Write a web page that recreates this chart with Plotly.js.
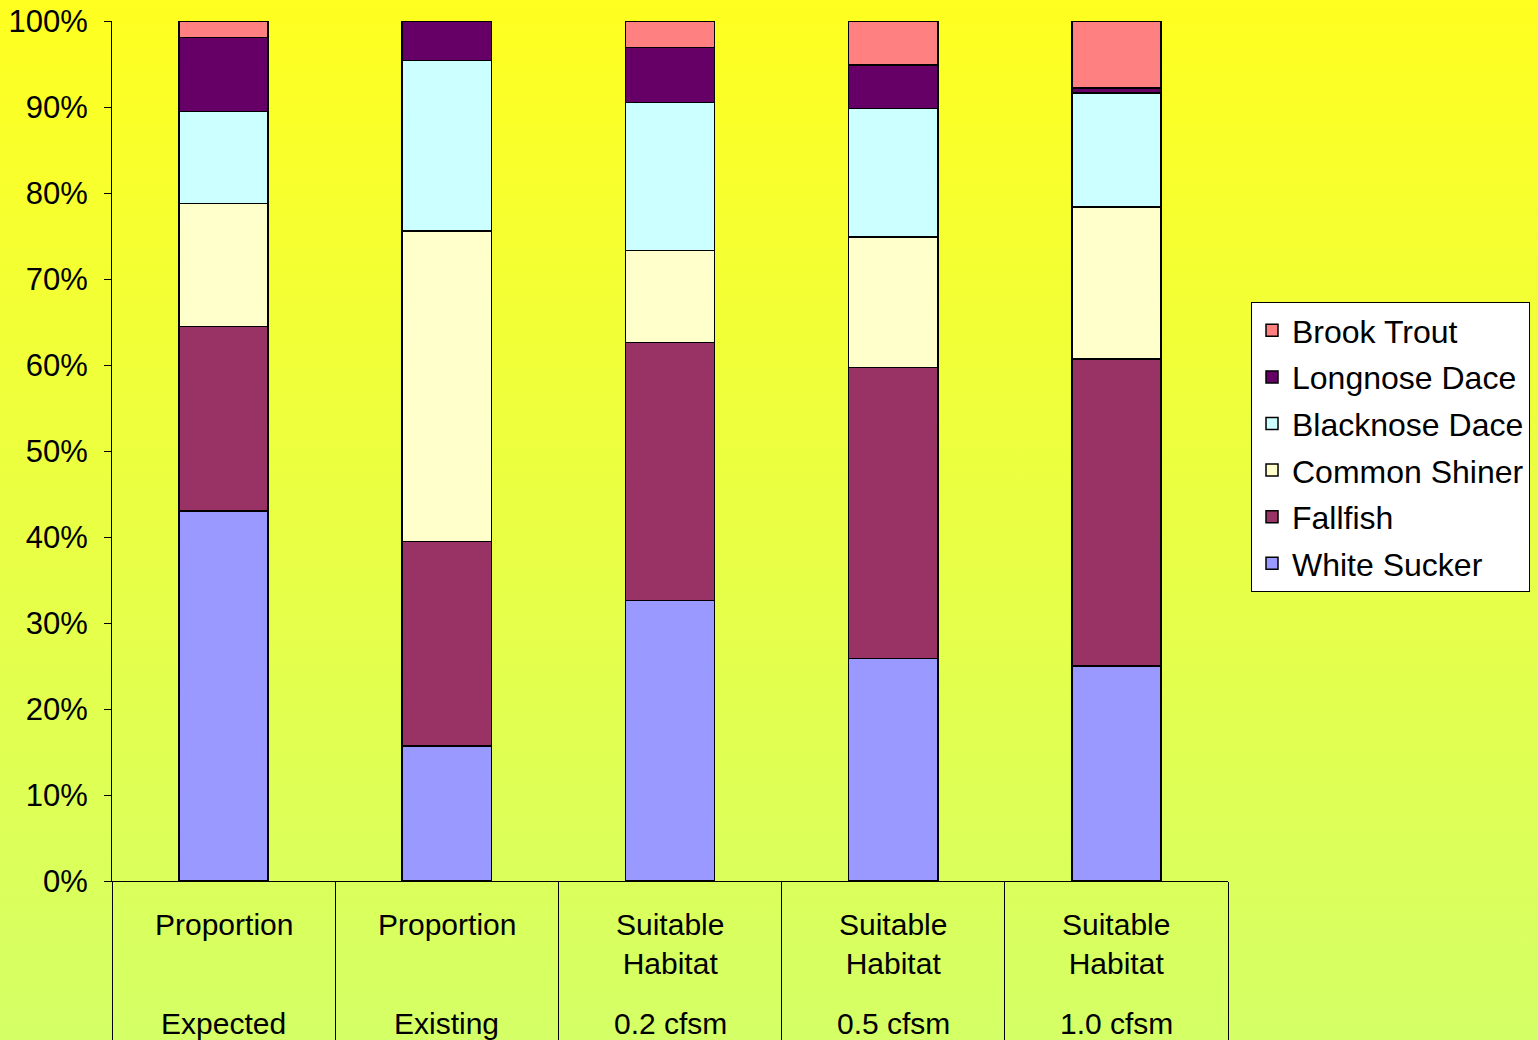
<!DOCTYPE html>
<html>
<head>
<meta charset="utf-8">
<script src="https://cdn.plot.ly/plotly-3.0.1.min.js"></script>
<style>
  html, body { margin: 0; padding: 0; }
  body { width: 1538px; height: 1040px; overflow: hidden;
         background: linear-gradient(to bottom, #FFFF20 0%, #D4FF66 100%); }
  #chart { width: 1538px; height: 1040px; }
</style>
</head>
<body>
<div id="chart"></div>
<script>
// Category labels: upper heading and lower sub-label for each bar
const categories = ['Proportion Expected', 'Proportion Existing', 'Suitable Habitat 0.2 cfsm',
                    'Suitable Habitat 0.5 cfsm', 'Suitable Habitat 1.0 cfsm'];
const headLabels = ['Proportion', 'Proportion', 'Suitable<br>Habitat', 'Suitable<br>Habitat', 'Suitable<br>Habitat'];
const subLabels = ['Expected', 'Existing', '0.2 cfsm', '0.5 cfsm', '1.0 cfsm'];

// Species shares (%) per category, stacked bottom to top
const whiteSucker   = [43.0, 15.7, 32.6, 25.9, 25.0];
const fallfish      = [21.5, 23.8, 30.0, 33.8, 35.7];
const commonShiner  = [14.3, 36.1, 10.7, 15.2, 17.7];
const blacknoseDace = [10.7, 19.8, 17.2, 14.9, 13.2];
const longnoseDace  = [8.6, 4.6, 6.4, 5.1, 0.6];
const brookTrout    = [1.9, 0.0, 3.1, 5.1, 7.8];

const yTickVals = [0, 10, 20, 30, 40, 50, 60, 70, 80, 90, 100];
const yTickText = yTickVals.map(v => v + '%');

const FONT = '"Liberation Sans", Arial, sans-serif';

const series = [
  { name: 'White Sucker',   y: whiteSucker,   color: '#9999FF' },
  { name: 'Fallfish',       y: fallfish,      color: '#993366' },
  { name: 'Common Shiner',  y: commonShiner,  color: '#FFFFCC' },
  { name: 'Blacknose Dace', y: blacknoseDace, color: '#CCFFFF' },
  { name: 'Longnose Dace',  y: longnoseDace,  color: '#660066' },
  { name: 'Brook Trout',    y: brookTrout,    color: '#FF8080' }
];

// Legend lists the top segment first
const traces = series.map((s, i) => ({
  type: 'bar',
  name: s.name,
  legendgroup: s.name,
  legendrank: series.length - i,
  x: categories,
  y: s.y,
  marker: { color: s.color, line: { color: '#000000', width: 1.5 } },
  hoverinfo: 'name+y'
}));

// Category text below the axis, between the boundary ticks
const annotations = [];
categories.forEach((c, i) => {
  annotations.push({
    xref: 'x', yref: 'paper', x: c, y: 0, yanchor: 'top', xanchor: 'center',
    yshift: -25, text: headLabels[i], showarrow: false,
    font: { family: FONT, size: 30, color: '#000000' }
  });
  annotations.push({
    xref: 'x', yref: 'paper', x: c, y: 0, yanchor: 'top', xanchor: 'center',
    yshift: -124, text: subLabels[i], showarrow: false,
    font: { family: FONT, size: 30, color: '#000000' }
  });
});

const layout = {
  width: 1538,
  height: 1040,
  margin: { l: 112, r: 310, t: 21, b: 159, pad: 0 },
  paper_bgcolor: 'rgba(0,0,0,0)',
  plot_bgcolor: 'rgba(0,0,0,0)',
  barmode: 'stack',
  bargap: 0.6,
  showlegend: true,
  font: { family: FONT, color: '#000000' },
  xaxis: {
    type: 'category',
    range: [-0.5, 4.5],
    tickson: 'boundaries',
    ticks: 'outside',
    ticklen: 160,
    tickwidth: 1,
    tickcolor: '#000000',
    showticklabels: false,
    showline: true,
    linecolor: '#000000',
    linewidth: 1,
    showgrid: false,
    zeroline: false,
    fixedrange: true
  },
  yaxis: {
    range: [0, 100],
    tickmode: 'array',
    tickvals: yTickVals,
    ticktext: yTickText,
    ticks: 'outside',
    ticklen: 7,
    tickwidth: 1,
    tickcolor: '#000000',
    ticklabelstandoff: 10,
    tickfont: { family: FONT, size: 31, color: '#000000' },
    showline: true,
    linecolor: '#000000',
    linewidth: 1,
    showgrid: false,
    zeroline: false,
    fixedrange: true
  },
  legend: {
    xref: 'container',
    yref: 'container',
    x: 0.8134,
    y: 0.7096,
    xanchor: 'left',
    yanchor: 'top',
    bgcolor: '#FFFFFF',
    bordercolor: '#000000',
    borderwidth: 1,
    font: { family: FONT, size: 32, color: '#000000' },
    traceorder: 'grouped',
    tracegroupgap: 2,
    itemwidth: 30
  },
  annotations: annotations
};

Plotly.newPlot('chart', traces, layout, { displayModeBar: false, staticPlot: true });
</script>
</body>
</html>
